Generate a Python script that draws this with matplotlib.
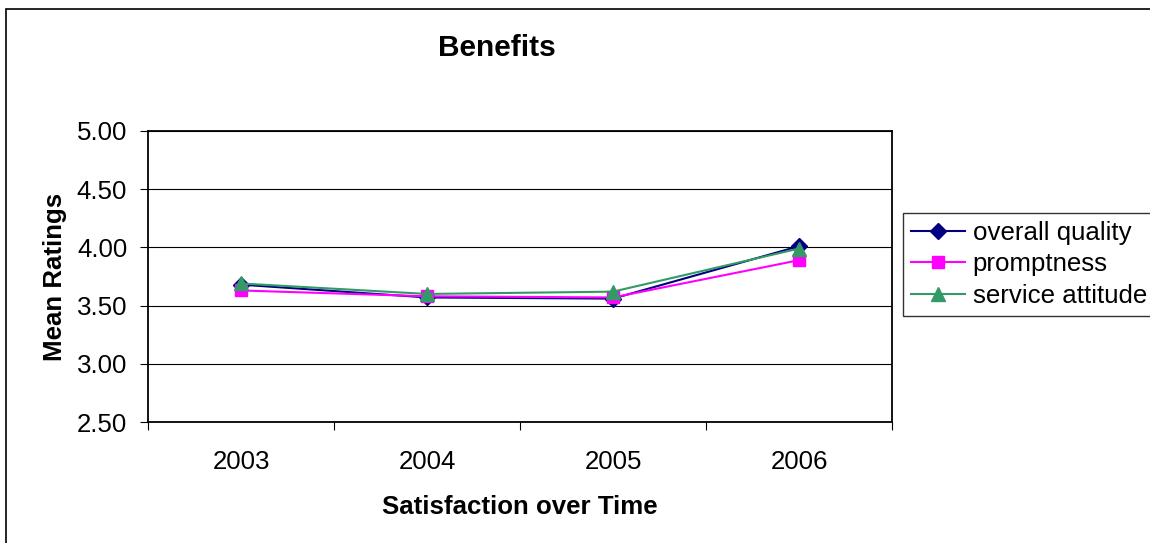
import matplotlib.pyplot as plt
from matplotlib.patches import Rectangle

years = ['2003', '2004', '2005', '2006']
overall_quality = [3.68, 3.57, 3.56, 4.01]
promptness = [3.63, 3.58, 3.57, 3.89]
service_attitude = [3.69, 3.60, 3.62, 3.99]
y_ticks = [2.5, 3.0, 3.5, 4.0, 4.5, 5.0]

plt.rcParams['font.family'] = ['Liberation Sans', 'DejaVu Sans']

W, H = 1150, 543
fs = 18.6
fig = plt.figure(figsize=(W / 100, H / 100), dpi=100)

# outer chart border (right/bottom fall outside the image)
fig.patches.append(Rectangle((6 / W, -0.2), 2, 1.2 - 9 / H, transform=fig.transFigure,
                             fill=False, edgecolor='black', linewidth=1.2))

ax = fig.add_axes([148 / W, 1 - 422 / H, 744 / W, 291 / H])
x = list(range(len(years)))

ax.plot(x, overall_quality, color='#000080', marker='D', markersize=8.5, lw=1.5, label='overall quality')
ax.plot(x, promptness, color='#FF00FF', marker='s', markersize=8.5, lw=1.5, label='promptness')
ax.plot(x, service_attitude, color='#339966', marker='^', markersize=10.5, lw=1.5, label='service attitude')

ax.set_ylim(2.5, 5.0)
ax.set_yticks(y_ticks)
ax.set_yticklabels(['%.2f' % v for v in y_ticks])
ax.yaxis.grid(True, color='black', linewidth=0.8)
ax.set_axisbelow(True)

ax.set_xlim(-0.5, len(years) - 0.5)
ax.set_xticks([i - 0.5 for i in range(len(years) + 1)])
ax.set_xticklabels([])
ax.set_xticks(x, minor=True)
ax.set_xticklabels(years, minor=True)
ax.tick_params(axis='x', which='major', direction='out', length=6, width=0.8)
ax.tick_params(axis='x', which='minor', length=0, pad=20, labelsize=fs)
ax.tick_params(axis='y', direction='out', length=6, width=0.8, pad=9, labelsize=fs)

for s in ax.spines.values():
    s.set_linewidth(1.3)

fig.text(497 / W, 1 - 48 / H, 'Benefits', ha='center', va='center', fontsize=21.5, fontweight='bold')
fig.text(55 / W, 1 - 277 / H, 'Mean Ratings', ha='center', va='center', rotation=90,
         fontsize=fs, fontweight='bold')
fig.text(520 / W, 1 - 507 / H, 'Satisfaction over Time', ha='center', va='center',
         fontsize=fs, fontweight='bold')

leg = fig.legend(loc='upper left', bbox_to_anchor=(903 / W, 1 - 213 / H), fontsize=fs,
                 frameon=True, fancybox=False, handlelength=2.1, handletextpad=0.3,
                 borderaxespad=0, borderpad=0.3, labelspacing=0.3)
leg.get_frame().set_edgecolor('black')
leg.get_frame().set_linewidth(1.0)

fig.savefig('out.png', dpi=100)
